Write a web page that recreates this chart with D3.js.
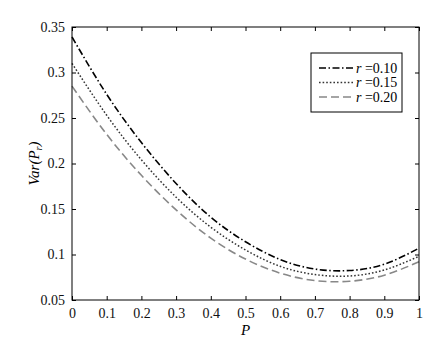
<!DOCTYPE html>
<html>
<head>
<meta charset="utf-8">
<script src="https://cdn.jsdelivr.net/npm/d3@7"></script>
<style>
  body { margin: 0; background: #fff; }
  svg text { font-family: 'Liberation Serif', 'Times New Roman', Times, serif !important; }
</style>
</head>
<body>
<script>
// values, P from 0 to 1
var pValues = [0, 0.1, 0.2, 0.3, 0.4, 0.5, 0.6, 0.7, 0.8, 0.9, 1.0];
var var010 = [0.339, 0.276, 0.223, 0.178, 0.141, 0.114, 0.0945, 0.084, 0.0824, 0.0893, 0.107];
var var015 = [0.310, 0.253, 0.204, 0.163, 0.130, 0.105, 0.087, 0.078, 0.0764, 0.083, 0.098];
var var020 = [0.285, 0.232, 0.187, 0.149, 0.118, 0.095, 0.0795, 0.0713, 0.0706, 0.0773, 0.092];
var seriesNames = ['0.10', '0.15', '0.20'];
var xTicks = [0, 0.1, 0.2, 0.3, 0.4, 0.5, 0.6, 0.7, 0.8, 0.9, 1];
var yTicks = [0.05, 0.1, 0.15, 0.2, 0.25, 0.3, 0.35];

var serif = "'Liberation Serif', 'Times New Roman', Times, serif";

var margin = { top: 27, right: 18, bottom: 43, left: 72 };
var width = 437 - margin.left - margin.right;
var height = 343 - margin.top - margin.bottom;

var svg = d3.select('body').append('svg')
  .attr('width', 437)
  .attr('height', 343)
  .attr('font-family', serif);

var g = svg.append('g')
  .attr('transform', `translate(${margin.left}, ${margin.top})`);

var xScale = d3.scaleLinear().domain([0, 1]).range([0, width]);
var yScale = d3.scaleLinear().domain([0.05, 0.35]).range([height, 0]);

var styles = [
  { vals: var010, color: '#000', dash: '7,2.5,1.5,2.5', w: 1.6 },
  { vals: var015, color: '#333', dash: '1.6,2', w: 1.5 },
  { vals: var020, color: '#888', dash: '8,4', w: 1.6 }
];

var line = d3.line()
  .x(function(d) { return xScale(d[0]); })
  .y(function(d) { return yScale(d[1]); })
  .curve(d3.curveNatural);

styles.forEach(function(s) {
  g.append('path')
    .datum(pValues.map(function(p, i) { return [p, s.vals[i]]; }))
    .attr('fill', 'none')
    .attr('stroke', s.color)
    .attr('stroke-width', s.w)
    .attr('stroke-dasharray', s.dash)
    .attr('d', line);
});

// axes, ticks pointing inward, mirrored on top/right
function styleAxis(sel) {
  sel.attr('font-family', serif);
  sel.select('.domain').remove();
  sel.selectAll('line').attr('stroke', '#000');
  sel.selectAll('text')
    .attr('font-family', serif)
    .style('font-size', '14px')
    .attr('fill', '#111');
}

g.append('g')
  .attr('transform', `translate(0, ${height})`)
  .call(d3.axisBottom(xScale).tickValues(xTicks).tickSize(-4).tickPadding(8)
    .tickFormat(function(d) { return d3.format('')(d); }))
  .call(styleAxis);

g.append('g')
  .call(d3.axisTop(xScale).tickValues(xTicks).tickSize(-4).tickFormat(''))
  .call(styleAxis);

g.append('g')
  .call(d3.axisLeft(yScale).tickValues(yTicks).tickSize(-4).tickPadding(7)
    .tickFormat(function(d) { return d3.format('')(+d.toFixed(2)); }))
  .call(styleAxis);

g.append('g')
  .attr('transform', `translate(${width}, 0)`)
  .call(d3.axisRight(yScale).tickValues(yTicks).tickSize(-4).tickFormat(''))
  .call(styleAxis);

g.append('rect')
  .attr('width', width)
  .attr('height', height)
  .attr('fill', 'none')
  .attr('stroke', '#000')
  .attr('stroke-width', 1);

// axis labels
g.append('text')
  .attr('x', width / 2)
  .attr('y', height + 35)
  .attr('text-anchor', 'middle')
  .style('font-size', '15px')
  .style('font-style', 'italic')
  .text('P');

var yl = g.append('text')
  .attr('transform', `translate(-33, ${height / 2}) rotate(-90)`)
  .attr('text-anchor', 'middle')
  .style('font-size', '15px')
  .style('font-style', 'italic');
yl.append('tspan').text('Var(P');
yl.append('tspan').attr('dy', 3).style('font-size', '10px').text('r');
yl.append('tspan').attr('dy', -3).text(')');

// legend
var legend = svg.append('g').attr('transform', 'translate(311, 53)');
legend.append('rect')
  .attr('width', 91)
  .attr('height', 59)
  .attr('fill', '#fff')
  .attr('stroke', '#000')
  .attr('stroke-width', 1);

styles.forEach(function(s, i) {
  var yy = 15 + i * 14.5;
  legend.append('line')
    .attr('x1', 8).attr('x2', 42)
    .attr('y1', yy).attr('y2', yy)
    .attr('stroke', s.color)
    .attr('stroke-width', s.w)
    .attr('stroke-dasharray', s.dash);
  var t = legend.append('text')
    .attr('x', 45)
    .attr('y', yy + 4.5)
    .style('font-size', '14px');
  t.append('tspan').style('font-style', 'italic').text('r');
  t.append('tspan').text(' =' + seriesNames[i]);
});
</script>
</body>
</html>
